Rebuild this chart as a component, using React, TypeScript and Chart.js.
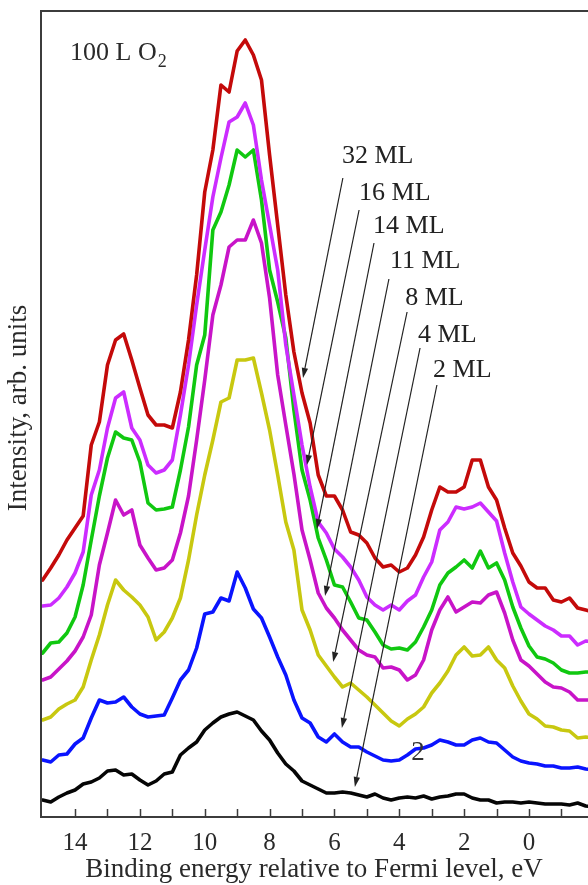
import React, { useEffect, useRef } from "react";
import { Chart, registerables } from "chart.js";

Chart.register(...registerables);

// Binding energy grid (eV)
const energy = [15, 14.75, 14.5, 14.25, 14, 13.75, 13.5, 13.25, 13, 12.75, 12.5, 12.25, 12, 11.75, 11.5, 11.25, 11, 10.75, 10.5, 10.25, 10, 9.75, 9.5, 9.25, 9, 8.75, 8.5, 8.25, 8, 7.75, 7.5, 7.25, 7, 6.75, 6.5, 6.25, 6, 5.75, 5.5, 5.25, 5, 4.75, 4.5, 4.25, 4, 3.75, 3.5, 3.25, 3, 2.75, 2.5, 2.25, 2, 1.75, 1.5, 1.25, 1, 0.75, 0.5, 0.25, 0, -0.25, -0.5, -0.75, -1, -1.25, -1.5, -1.75, -2];

// Intensities (arb. units, offset spectra)
const ml32 = [237, 249, 262, 277, 289, 301, 372, 395, 452, 477, 483, 457, 429, 402, 392, 392, 389, 425, 477, 542, 625, 667, 732, 725, 766, 777, 762, 737, 662, 592, 522, 465, 424, 394, 342, 321, 321, 307, 285, 282, 274, 259, 250, 252, 245, 249, 262, 280, 307, 330, 325, 325, 330, 357, 357, 330, 317, 289, 264, 251, 235, 229, 229, 217, 215, 219, 209, 207, 205];
const ml16 = [211, 212, 219, 230, 244, 265, 322, 347, 389, 419, 425, 389, 377, 352, 344, 347, 357, 402, 452, 512, 567, 620, 659, 695, 700, 714, 692, 637, 592, 547, 472, 422, 372, 330, 295, 284, 268, 260, 250, 237, 220, 212, 207, 212, 207, 216, 222, 240, 255, 287, 295, 310, 308, 310, 314, 305, 296, 264, 235, 210, 203, 197, 191, 187, 181, 181, 172, 176, 175];
const ml14 = [164, 174, 175, 184, 200, 232, 277, 321, 359, 385, 379, 377, 355, 314, 307, 308, 310, 347, 390, 452, 482, 587, 605, 632, 667, 660, 667, 617, 547, 515, 479, 407, 347, 317, 279, 257, 232, 230, 215, 199, 197, 185, 172, 168, 169, 167, 175, 190, 207, 232, 244, 250, 257, 249, 266, 249, 254, 237, 210, 189, 171, 160, 158, 154, 147, 144, 144, 145, 145];
const ml11 = [137, 140, 148, 156, 166, 180, 202, 252, 284, 317, 302, 307, 272, 259, 247, 249, 257, 284, 321, 377, 437, 502, 532, 570, 577, 577, 597, 574, 519, 442, 392, 343, 287, 257, 224, 209, 199, 187, 177, 167, 162, 160, 149, 150, 147, 137, 142, 157, 187, 207, 220, 205, 210, 215, 214, 222, 225, 204, 177, 157, 151, 143, 135, 130, 129, 125, 117, 117, 117];
const ml8 = [97, 100, 108, 113, 117, 130, 157, 182, 212, 237, 227, 220, 212, 200, 177, 185, 199, 219, 257, 302, 342, 377, 415, 419, 457, 457, 459, 424, 387, 342, 295, 267, 207, 187, 162, 151, 140, 130, 134, 127, 120, 112, 104, 96, 91, 98, 103, 110, 124, 134, 146, 162, 170, 161, 162, 170, 157, 149, 131, 116, 103, 98, 91, 90, 87, 86, 79, 80, 79];
const ml4 = [57, 55, 62, 63, 73, 79, 99, 117, 114, 115, 120, 110, 103, 100, 101, 102, 119, 137, 147, 169, 203, 205, 219, 216, 245, 229, 208, 199, 180, 160, 142, 117, 99, 94, 80, 75, 83, 75, 70, 70, 65, 61, 57, 56, 57, 62, 68, 69, 72, 77, 75, 72, 72, 77, 79, 75, 74, 67, 60, 56, 54, 53, 51, 51, 49, 49, 50, 48, 47];
const ml2 = [17, 15, 20, 24, 27, 33, 35, 39, 46, 47, 42, 43, 37, 32, 36, 43, 45, 62, 69, 75, 87, 94, 100, 103, 105, 101, 97, 86, 77, 64, 53, 46, 36, 32, 28, 24, 24, 25, 24, 22, 20, 23, 19, 17, 19, 20, 19, 21, 18, 20, 21, 23, 23, 19, 17, 17, 14, 15, 15, 14, 15, 14, 13, 13, 13, 12, 14, 11, 10];

const seriesNames = ["32 ML", "16 ML", "14 ML", "11 ML", "8 ML", "4 ML", "2 ML"];
const seriesValues = [ml32, ml16, ml14, ml11, ml8, ml4, ml2];
const seriesColors = ["#c40a0a", "#cc2cff", "#10c810", "#c814c8", "#c8c810", "#0a14ff", "#050505"];

// Axis ticks
const majorTicks = [14, 12, 10, 8, 6, 4, 2, 0];
const minorTicks = [13, 11, 9, 7, 5, 3, 1, -1];

// Annotation arrows (data coordinates)
const annText = ["32 ML", "16 ML", "14 ML", "11 ML", "8 ML", "4 ML", "2 ML"];
const annTextE = [5.77, 5.24, 4.81, 4.29, 3.82, 3.42, 2.96];
const annTextI = [654, 617, 584, 549, 512, 475, 440];
const annTailE = [5.74, 5.24, 4.78, 4.32, 3.76, 3.36, 2.84];
const annTailI = [639, 607, 574, 538, 505, 469, 432];
const annTipE = [6.97, 6.85, 6.54, 6.29, 6.04, 5.77, 5.37];
const annTipI = [439, 352, 288, 221, 155, 89, 30];

const strayLabel = "2";
const strayE = 3.42;
const strayI = 64;

const X_MIN = -1.82;
const X_MAX = 15.05;
const Y_MIN = 0;
const Y_MAX = 806;

const FONT = '"Liberation Serif", "Times New Roman", serif';

const overlay = {
  id: "overlay",
  afterDraw(chart: any) {
    const { ctx, chartArea, scales } = chart;
    const xs = scales.x;
    const ys = scales.y;
    const { left, top, right, bottom } = chartArea;
    ctx.save();

    // frame
    ctx.strokeStyle = "#3c3c3c";
    ctx.lineWidth = 2;
    ctx.beginPath();
    ctx.moveTo(right + 4, top);
    ctx.lineTo(left, top);
    ctx.lineTo(left, bottom);
    ctx.lineTo(right + 4, bottom);
    ctx.stroke();

    // inward ticks
    ctx.lineWidth = 1.5;
    ctx.beginPath();
    [...majorTicks, ...minorTicks].forEach((v) => {
      const px = Math.round(xs.getPixelForValue(v)) + 0.5;
      ctx.moveTo(px, bottom);
      ctx.lineTo(px, bottom - 8);
    });
    ctx.stroke();

    // tick labels
    ctx.fillStyle = "#2a2a2a";
    ctx.font = `25px ${FONT}`;
    ctx.textAlign = "center";
    ctx.textBaseline = "alphabetic";
    majorTicks.forEach((v) => {
      ctx.fillText(String(v), xs.getPixelForValue(v), bottom + 33);
    });

    // x title
    ctx.font = `27px ${FONT}`;
    ctx.fillText("Binding energy relative to Fermi level, eV", 314, bottom + 60);

    // y title
    ctx.save();
    ctx.translate(26, 408);
    ctx.rotate(-Math.PI / 2);
    ctx.textAlign = "center";
    ctx.fillText("Intensity, arb. units", 0, 0);
    ctx.restore();

    // 100 L O2
    ctx.textAlign = "left";
    ctx.font = `26px ${FONT}`;
    ctx.fillText("100 L O", left + 29, top + 49);
    const w = ctx.measureText("100 L O").width;
    ctx.font = `18px ${FONT}`;
    ctx.fillText("2", left + 29 + w + 1, top + 56);

    // annotations
    ctx.font = `26px ${FONT}`;
    ctx.fillStyle = "#222";
    ctx.strokeStyle = "#222";
    annText.forEach((t, i) => {
      const tx = xs.getPixelForValue(annTextE[i]);
      const ty = ys.getPixelForValue(annTextI[i]);
      ctx.fillText(t, tx, ty);
      const x0 = xs.getPixelForValue(annTailE[i]);
      const y0 = ys.getPixelForValue(annTailI[i]);
      const x1 = xs.getPixelForValue(annTipE[i]);
      const y1 = ys.getPixelForValue(annTipI[i]);
      const ang = Math.atan2(y1 - y0, x1 - x0);
      const hl = 10;
      const hw = 3.2;
      const bx = x1 - hl * Math.cos(ang);
      const by = y1 - hl * Math.sin(ang);
      ctx.lineWidth = 1.2;
      ctx.beginPath();
      ctx.moveTo(x0, y0);
      ctx.lineTo(bx, by);
      ctx.stroke();
      ctx.beginPath();
      ctx.moveTo(x1, y1);
      ctx.lineTo(bx + hw * Math.sin(ang), by - hw * Math.cos(ang));
      ctx.lineTo(bx - hw * Math.sin(ang), by + hw * Math.cos(ang));
      ctx.closePath();
      ctx.fill();
    });

    // stray label
    ctx.font = `27px ${FONT}`;
    ctx.fillStyle = "#333";
    ctx.textAlign = "center";
    ctx.textBaseline = "middle";
    ctx.fillText(strayLabel, xs.getPixelForValue(strayE), ys.getPixelForValue(strayI));

    ctx.restore();
  },
};

export default function App() {
  const ref = useRef<HTMLCanvasElement | null>(null);
  useEffect(() => {
    if (!ref.current) return;
    const chart = new Chart(ref.current, {
      type: "line",
      data: {
        datasets: seriesValues.map((vals, k) => ({
          label: seriesNames[k],
          data: energy.map((e, i) => ({ x: e, y: vals[i] })),
          borderColor: seriesColors[k],
          backgroundColor: seriesColors[k],
          borderWidth: 3.6,
          pointRadius: 0,
          tension: 0,
          fill: false,
          borderJoinStyle: "round" as const,
          borderCapStyle: "round" as const,
        })),
      },
      options: {
        animation: false,
        responsive: false,
        maintainAspectRatio: false,
        devicePixelRatio: 1,
        layout: { padding: { left: 41, top: 11, right: 0, bottom: 68 } },
        plugins: { legend: { display: false }, tooltip: { enabled: false } },
        scales: {
          x: { type: "linear", min: X_MIN, max: X_MAX, reverse: true, display: false },
          y: { type: "linear", min: Y_MIN, max: Y_MAX, display: false },
        },
      },
      plugins: [overlay],
    });
    return () => chart.destroy();
  }, []);
  return (
    <div style={{ position: "fixed", left: 0, top: 0, width: 588, height: 885, background: "#fff" }}>
      <canvas ref={ref} width={588} height={885} style={{ display: "block" }} />
    </div>
  );
}
